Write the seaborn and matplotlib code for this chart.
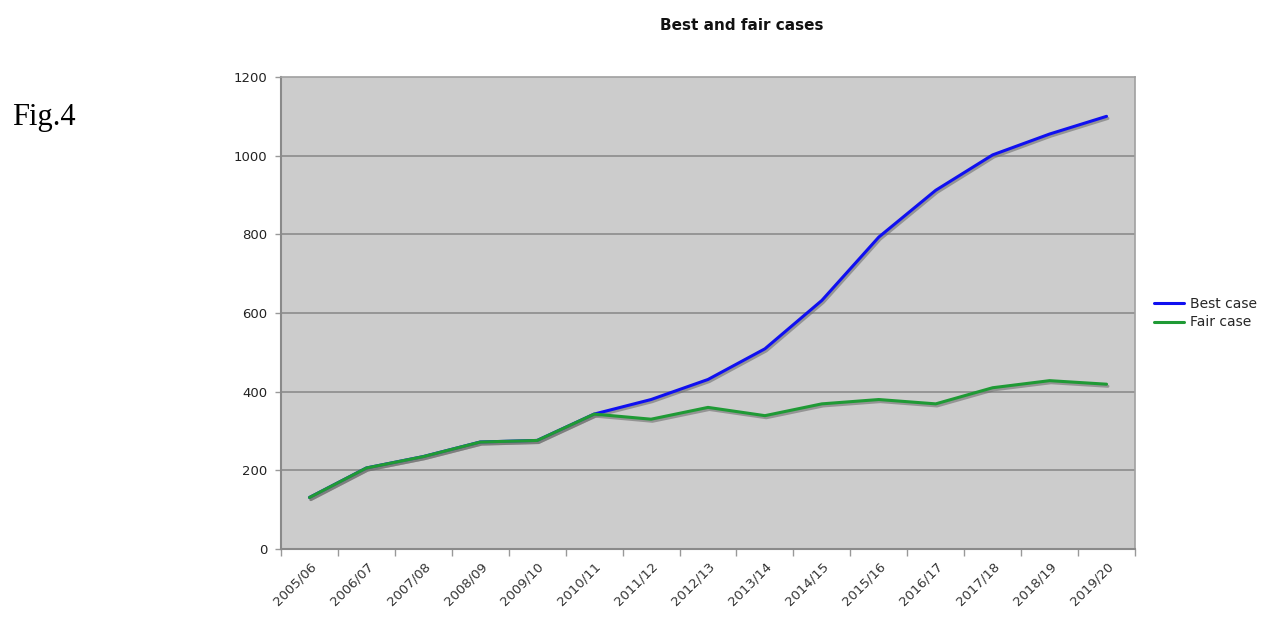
import matplotlib
matplotlib.use("Agg")
import matplotlib.pyplot as plt
import matplotlib.patheffects as pe
from matplotlib.lines import Line2D
import seaborn as sns
import pandas as pd
import numpy as np

years = ["2005/06", "2006/07", "2007/08", "2008/09", "2009/10", "2010/11", "2011/12",
         "2012/13", "2013/14", "2014/15", "2015/16", "2016/17", "2017/18", "2018/19", "2019/20"]
best_case = [131, 206, 235, 272, 276, 343, 380, 431, 509, 632, 793, 912, 1002, 1055, 1100]
fair_case = [131, 206, 235, 272, 276, 343, 330, 360, 339, 369, 380, 369, 410, 428, 419]
series_names = ["Best case", "Fair case"]
y_ticks = [0, 200, 400, 600, 800, 1000, 1200]

df = pd.DataFrame({
    "idx": list(range(len(years))) * 2,
    "value": best_case + fair_case,
    "series": [series_names[0]] * len(years) + [series_names[1]] * len(years),
})

sns.set_theme(style="white")
plt.rcParams["font.family"] = ["DejaVu Sans"]

colors = {"Best case": "#1010f0", "Fair case": "#1f9a35"}

fig = plt.figure(figsize=(12.69, 6.17), dpi=100)
ax = fig.add_axes([281 / 1269, 1 - 549 / 617, (1135 - 281) / 1269, (549 - 77) / 617])
ax.set_facecolor("#cccccc")

sns.lineplot(data=df, x="idx", y="value", hue="series", hue_order=series_names,
             palette=colors, linewidth=2.2, ax=ax, legend=False, zorder=3)
for line in ax.get_lines():
    line.set_path_effects([pe.SimpleLineShadow(offset=(1, -1.5), shadow_color="#707070", alpha=0.6),
                           pe.Normal()])

ax.set_xlim(-0.5, len(years) - 0.5)
ax.set_ylim(0, 1200)
ax.set_yticks(y_ticks)
ax.set_yticklabels([str(v) for v in y_ticks], fontsize=9.5, color="#222222")
ax.set_xticks(range(len(years)))
ax.set_xticklabels(years, rotation=45, ha="right", rotation_mode="anchor", fontsize=9.5, color="#333333")
ax.tick_params(axis="x", which="major", length=0, pad=8)
ax.set_xticks(np.arange(-0.5, len(years) + 0.5, 1), minor=True)
ax.tick_params(axis="x", which="minor", length=5, color="#999999", width=1, bottom=True)
ax.tick_params(axis="y", length=4, color="#999999", width=1, left=True, pad=6)
ax.set_xlabel("")
ax.set_ylabel("")
ax.grid(False)
for v in y_ticks[1:-1]:
    ax.axhline(v, color="#8c8c8c", linewidth=1.2, zorder=1)
for side in ["left", "bottom"]:
    ax.spines[side].set_color("#8a8a8a")
    ax.spines[side].set_linewidth(1.5)
for side in ["top", "right"]:
    ax.spines[side].set_color("#a0a0a0")
    ax.spines[side].set_linewidth(1.2)

handles = [Line2D([], [], color=colors[n], linewidth=2.2) for n in series_names]
fig.legend(handles, series_names, loc="center left", bbox_to_anchor=(1141 / 1269, 1 - 313 / 617),
           frameon=False, fontsize=10, handlelength=2.2, handletextpad=0.4, labelspacing=0.35)

fig.text(742 / 1269, 1 - 25 / 617, "Best and fair cases", ha="center", va="center",
         fontsize=11, fontweight="bold", color="#111111")
fig.text(12 / 1269, 1 - 117 / 617, "Fig.4", ha="left", va="center", fontsize=22,
         family=["Liberation Serif"], color="black")

fig.savefig("out.png", dpi=100, facecolor="white")
